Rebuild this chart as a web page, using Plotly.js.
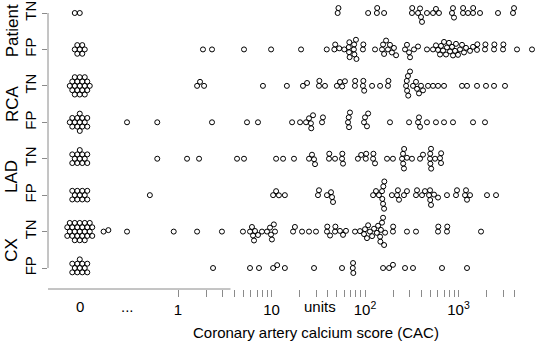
<!DOCTYPE html>
<html><head><meta charset="utf-8">
<script src="https://cdn.plot.ly/plotly-3.0.1.min.js"></script>
<style>html,body{margin:0;padding:0;background:#fff}</style>
</head><body><div id="chart" style="width:550px;height:350px"></div>
<script>
// ---------------- DATA ----------------
const groupLabels = ['Patient', 'RCA', 'LAD', 'CX'];
const rowLabels = ['TN', 'FP', 'TN', 'FP', 'TN', 'FP', 'TN', 'FP'];

const patientTN = [0, 0,
  51, 52, 108, 134, 135, 160, 318, 320, 369, 388, 397, 407, 460, 534, 574, 618,
  852, 873, 895, 1117, 1120, 1264, 1430, 1435, 1698, 2645, 3828, 3924];
const patientFP = [0, 0, 0, 0, 0, 0, 0,
  1.85, 2.31, 5.08, 9.9, 20.7, 39, 47, 48, 53, 60, 67, 67.5, 68, 68.5, 76, 76.5, 77, 80, 81,
  95, 96, 128, 152, 156, 160, 168, 176, 185, 194, 204, 215, 268, 281, 296, 303, 334, 369, 460,
  534, 574, 604, 634, 650, 683, 700, 735, 753, 791, 811, 852, 873, 918, 940, 988, 1038, 1090,
  1145, 1203, 1328, 1430, 1577, 1590, 1920, 1940, 2398, 2420, 2994, 3020, 4224, 6109];
const rcaTN = [0, 0, 0, 0, 0, 0, 0, 0, 0, 0, 0, 0, 0, 0, 0, 0, 0, 0, 0,
  1.6, 1.72, 1.9, 8.1, 14.6, 21.7, 24, 32.2, 32.5, 37.3, 50, 54, 57, 61, 78, 78.5, 95, 96, 98,
  119, 145, 176, 178, 275, 280, 282, 288, 290, 303, 326, 351, 360, 378, 397, 417, 472, 534,
  604, 700, 1090, 1233, 1577, 1968, 2398, 3142];
const rcaFP = [0, 0, 0, 0, 0, 0, 0, 0, 0, 0, 0, 0, 0, 0,
  0.285, 0.6, 2.31, 5.47, 7.17, 16.6, 20.2, 23.4, 25.2, 26.4, 26.6, 27.8, 34.7, 35.5, 65.8,
  67, 67.5, 69, 97.6, 100, 105, 108, 185, 296, 369, 378, 388, 460, 574, 700, 873, 1430, 1920];
const ladTN = [0, 0, 0, 0, 0, 0, 0, 0, 0, 0, 0, 0,
  0.6, 1.25, 1.68, 4.28, 5.08, 11.2, 13.3, 17.4, 25.2, 27.1, 28.5, 29.2, 41.2, 41.5, 47.8,
  56.8, 57.2, 58.2, 84, 91, 102, 103, 122, 123, 128, 172, 199, 249, 255, 256, 261, 262, 281,
  318, 388, 417, 496, 498, 500, 508, 510, 561, 634, 650, 652];
const ladFP = [0, 0, 0, 0, 0, 0, 0, 0, 0, 0, 0,
  0.5, 10.4, 11.2, 12, 13.9, 31.4, 32.2, 39.2, 43.3, 44.4, 45.5, 122, 131, 141, 152, 153, 156,
  157, 160, 161, 194, 220, 225, 231, 261, 281, 351, 360, 407, 438, 484, 496, 498, 508, 547,
  604, 753, 940, 964, 1174, 1203, 1233, 1328, 2018, 2519];
const cxTN = [0, 0, 0, 0, 0, 0, 0, 0, 0, 0, 0, 0, 0, 0, 0, 0, 0, 0, 0, 0, 0, 0, 0, 0, 0,
  0.16, 0.18, 0.285, 0.9, 1.6, 2.95, 4.95, 5.89, 6.18, 6.34, 6.5, 6.66, 7.17, 7.91, 8.95, 9.64,
  9.88, 10.1, 10.6, 10.9, 17, 17.8, 21.2, 25.2, 29.9, 39.2, 39.5, 42.3, 47.8, 48.2, 54, 58.2,
  62.6, 78.2, 88.4, 97.6, 100, 105, 108, 113, 119, 125, 134, 138, 145, 146, 148, 152, 156,
  160, 164, 199, 200, 281, 351, 604, 608, 753, 758, 1741];
const cxFP = [0, 0, 0, 0, 0, 0, 0, 0, 0, 0, 0, 0,
  2.37, 5.89, 7.35, 10.4, 11.5, 13.9, 28.5, 56.8, 74, 74.5, 75, 156, 181, 199, 268, 326, 666, 1233];

const xTickVals = [1, 2, 3, 4, 5, 6, 7, 8, 9,
  10, 20, 30, 40, 50, 60, 70, 80, 90,
  100, 200, 300, 400, 500, 600, 700, 800, 900,
  1000, 2000, 3000, 4000];
const xTickText = ['1', '', '', '', '', '', '', '', '',
  '10', '', '', '', '', '', '', '', '',
  '10<sup>2</sup>', '', '', '', '', '', '', '', '',
  '10<sup>3</sup>', '', '', ''];
const xExtraLabels = ['0', '...', 'units'];
const xTitle = 'Coronary artery calcium score (CAC)';

// ---------------- LAYOUT CONSTANTS ----------------
const W = 550, H = 350;
const M = {l: 48, r: 5, t: 0, b: 61};
const plotW = W - M.l - M.r, plotH = H - M.t - M.b;
const xRange = [-1.3904, 3.9251];       // log10 units
const yRange = [-7.576, 0.3569];
const ZERO_AT = 0.089;                  // where the "0" column is drawn
const DOTS_AT = 0.29, UNITS_AT = 33, TITLE_AT = 30;
const AXIS_END = 4400;
const D = 5;                            // swarm spacing (px)
const FONT = 'Liberation Sans, Arial, sans-serif';
const AXCOL = '#8a8a8a';

const pxPerDec = plotW / (xRange[1] - xRange[0]);
const pxPerY = plotH / (yRange[1] - yRange[0]);

function swarm(vals) {
  const out = [];
  const pos = vals.filter(v => v > 0).slice().sort((a, b) => a - b);
  const placed = [];
  for (const v of pos) {
    const xp = Math.log10(v) * pxPerDec;
    const cands = [0];
    for (const p of placed) {
      const dx = Math.abs(xp - p.x);
      if (dx < D) {
        const h = Math.sqrt(D * D - dx * dx);
        cands.push(p.y + h, p.y - h);
      }
    }
    const ok = cands.filter(c => placed.every(p => (xp - p.x) ** 2 + (c - p.y) ** 2 >= D * D - 0.01));
    ok.sort((a, b) => (Math.abs(a) - Math.abs(b)) || (b - a));
    const y = ok[0];
    placed.push({x: xp, y: y});
    out.push({v: v, xo: 0, yo: y});
  }
  // zero values: compact hexagonal cluster around the zero column
  const nz = vals.filter(v => v === 0).length;
  const lat = [];
  for (let j = -8; j <= 8; j++) {
    for (let i = -8; i <= 8; i++) {
      const dx = (i + (Math.abs(j) % 2 ? 0.5 : 0)) * D;
      const dy = j * D * 0.866;
      lat.push({dx, dy, d: dx * dx + (dy / 0.98) ** 2});
    }
  }
  lat.sort((a, b) => (a.d - b.d) || (b.dy - a.dy) || (a.dx - b.dx));
  for (let k = 0; k < nz; k++) {
    out.push({v: 0, xo: lat[k].dx, yo: lat[k].dy});
  }
  return out;
}

const rows = [patientTN, patientFP, rcaTN, rcaFP, ladTN, ladFP, cxTN, cxFP];
const traces = rows.map((vals, r) => {
  const s = swarm(vals);
  return {
    type: 'scatter', mode: 'markers', cliponaxis: false, hoverinfo: 'skip',
    x: s.map(p => p.v > 0 ? p.v : Math.pow(10, Math.log10(ZERO_AT) + p.xo / pxPerDec)),
    y: s.map(p => -r + p.yo / pxPerY),
    marker: {symbol: 'circle-open', size: 5, color: '#000', line: {width: 1, color: '#000'}},
    showlegend: false
  };
});

const annotations = [];
groupLabels.forEach((g, k) => {
  annotations.push({
    text: g, xref: 'paper', yref: 'y', x: (12 - M.l) / plotW, y: -0.5 - 2 * k,
    textangle: -90, showarrow: false, xanchor: 'center', yanchor: 'middle',
    font: {family: FONT, size: 17, color: '#000'}
  });
});
[[ZERO_AT, xExtraLabels[0]], [DOTS_AT, xExtraLabels[1]], [UNITS_AT, xExtraLabels[2]]].forEach(([xv, t]) => {
  annotations.push({
    text: t, xref: 'x', yref: 'paper', x: Math.log10(xv), y: 0, yanchor: 'top', yshift: -7,
    showarrow: false, font: {family: FONT, size: 15, color: '#000'}
  });
});
annotations.push({
  text: xTitle, xref: 'x', yref: 'paper', x: Math.log10(TITLE_AT), y: 0, yanchor: 'top', yshift: -33,
  showarrow: false, font: {family: FONT, size: 15, color: '#000'}
});

const layout = {
  width: W, height: H, margin: M,
  paper_bgcolor: '#fff', plot_bgcolor: '#fff',
  showlegend: false, hovermode: false,
  font: {family: FONT, size: 15, color: '#000'},
  xaxis: {
    type: 'log', range: xRange, showgrid: false, zeroline: false, showline: false,
    tickmode: 'array', tickvals: xTickVals, ticktext: xTickText,
    ticks: 'outside', ticklen: 7, tickwidth: 1, tickcolor: AXCOL,
    tickfont: {family: FONT, size: 15, color: '#000'}
  },
  yaxis: {
    range: yRange, showgrid: false, zeroline: false, showline: false,
    tickmode: 'array', tickvals: [0, -1, -2, -3, -4, -5, -6, -7], ticktext: rowLabels,
    ticks: 'outside', ticklen: 5, tickwidth: 1, tickcolor: AXCOL, tickangle: -90,
    tickfont: {family: FONT, size: 15, color: '#000'}
  },
  shapes: [
    {type: 'line', xref: 'x', yref: 'paper', x0: 0, x1: Math.log10(AXIS_END), y0: 0, y1: 0,
     line: {color: AXCOL, width: 1}},
    {type: 'line', xref: 'paper', yref: 'y', x0: 0, x1: 0, y0: 0, y1: -7,
     line: {color: AXCOL, width: 1}}
  ],
  annotations: annotations
};

Plotly.newPlot('chart', traces, layout, {staticPlot: true, displayModeBar: false});
</script>
</body></html>
